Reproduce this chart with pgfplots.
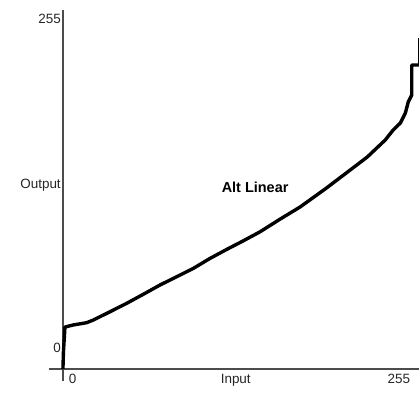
\documentclass[border=0pt]{standalone}
\usepackage{fontspec}
\setmainfont{Liberation Sans}
\usepackage{pgfplots}
\pgfplotsset{compat=1.18}
\begin{document}
\begin{tikzpicture}
\begin{axis}[
  scale only axis, width=370bp, height=371bp,
  xmin=-10, xmax=255.5, ymin=-8.5, ymax=255,
  axis lines=middle,
  axis line style={-, draw=black!70, line width=1.3bp},
  xtick={7,124,241}, xticklabels={0,Input,255},
  ytick={15,130.7,248.5}, yticklabels={0,Output,255},
  major tick length=0pt,
  /pgf/number format/assume math mode=true,
  tick label style={font=\fontsize{13.5}{15}\selectfont, text=black!85},
  xticklabel style={anchor=north, inner sep=1bp, yshift=-4bp},
  yticklabel style={anchor=east, inner sep=2bp},
  clip=false,
]
\addplot[black, line width=3.4bp, line join=round] coordinates {
(0,0) (0.36,12.1) (1.44,29.8) (7.4,31.3) (17.0,32.9) (21.8,34.8)
(33.8,40.7) (45.8,46.7) (57.7,53.1) (69.7,59.7) (81.7,65.6) (93.6,71.5)
(105.6,78.6) (117.6,85.0) (129.5,91.1) (141.5,97.5) (155.9,106.5)
(170.2,115.1) (188.2,127.9) (206.2,141.4) (218.4,150.6) (231.3,162.7)
(237.0,169.8) (242.1,174.7) (245.7,181.8) (247.8,189.7) (250.3,194.6)
(250.3,215.9) (256.1,215.9) (256.1,235.1)
};
\node[font=\bfseries\fontsize{14.5}{16}\selectfont] at (axis cs:137.9,129.3) {Alt Linear};
\end{axis}
\pgfresetboundingbox
\useasboundingbox ([xshift=-49bp,yshift=-13bp]current axis.south west) rectangle ([yshift=10bp]current axis.north east);
\end{tikzpicture}
\end{document}
